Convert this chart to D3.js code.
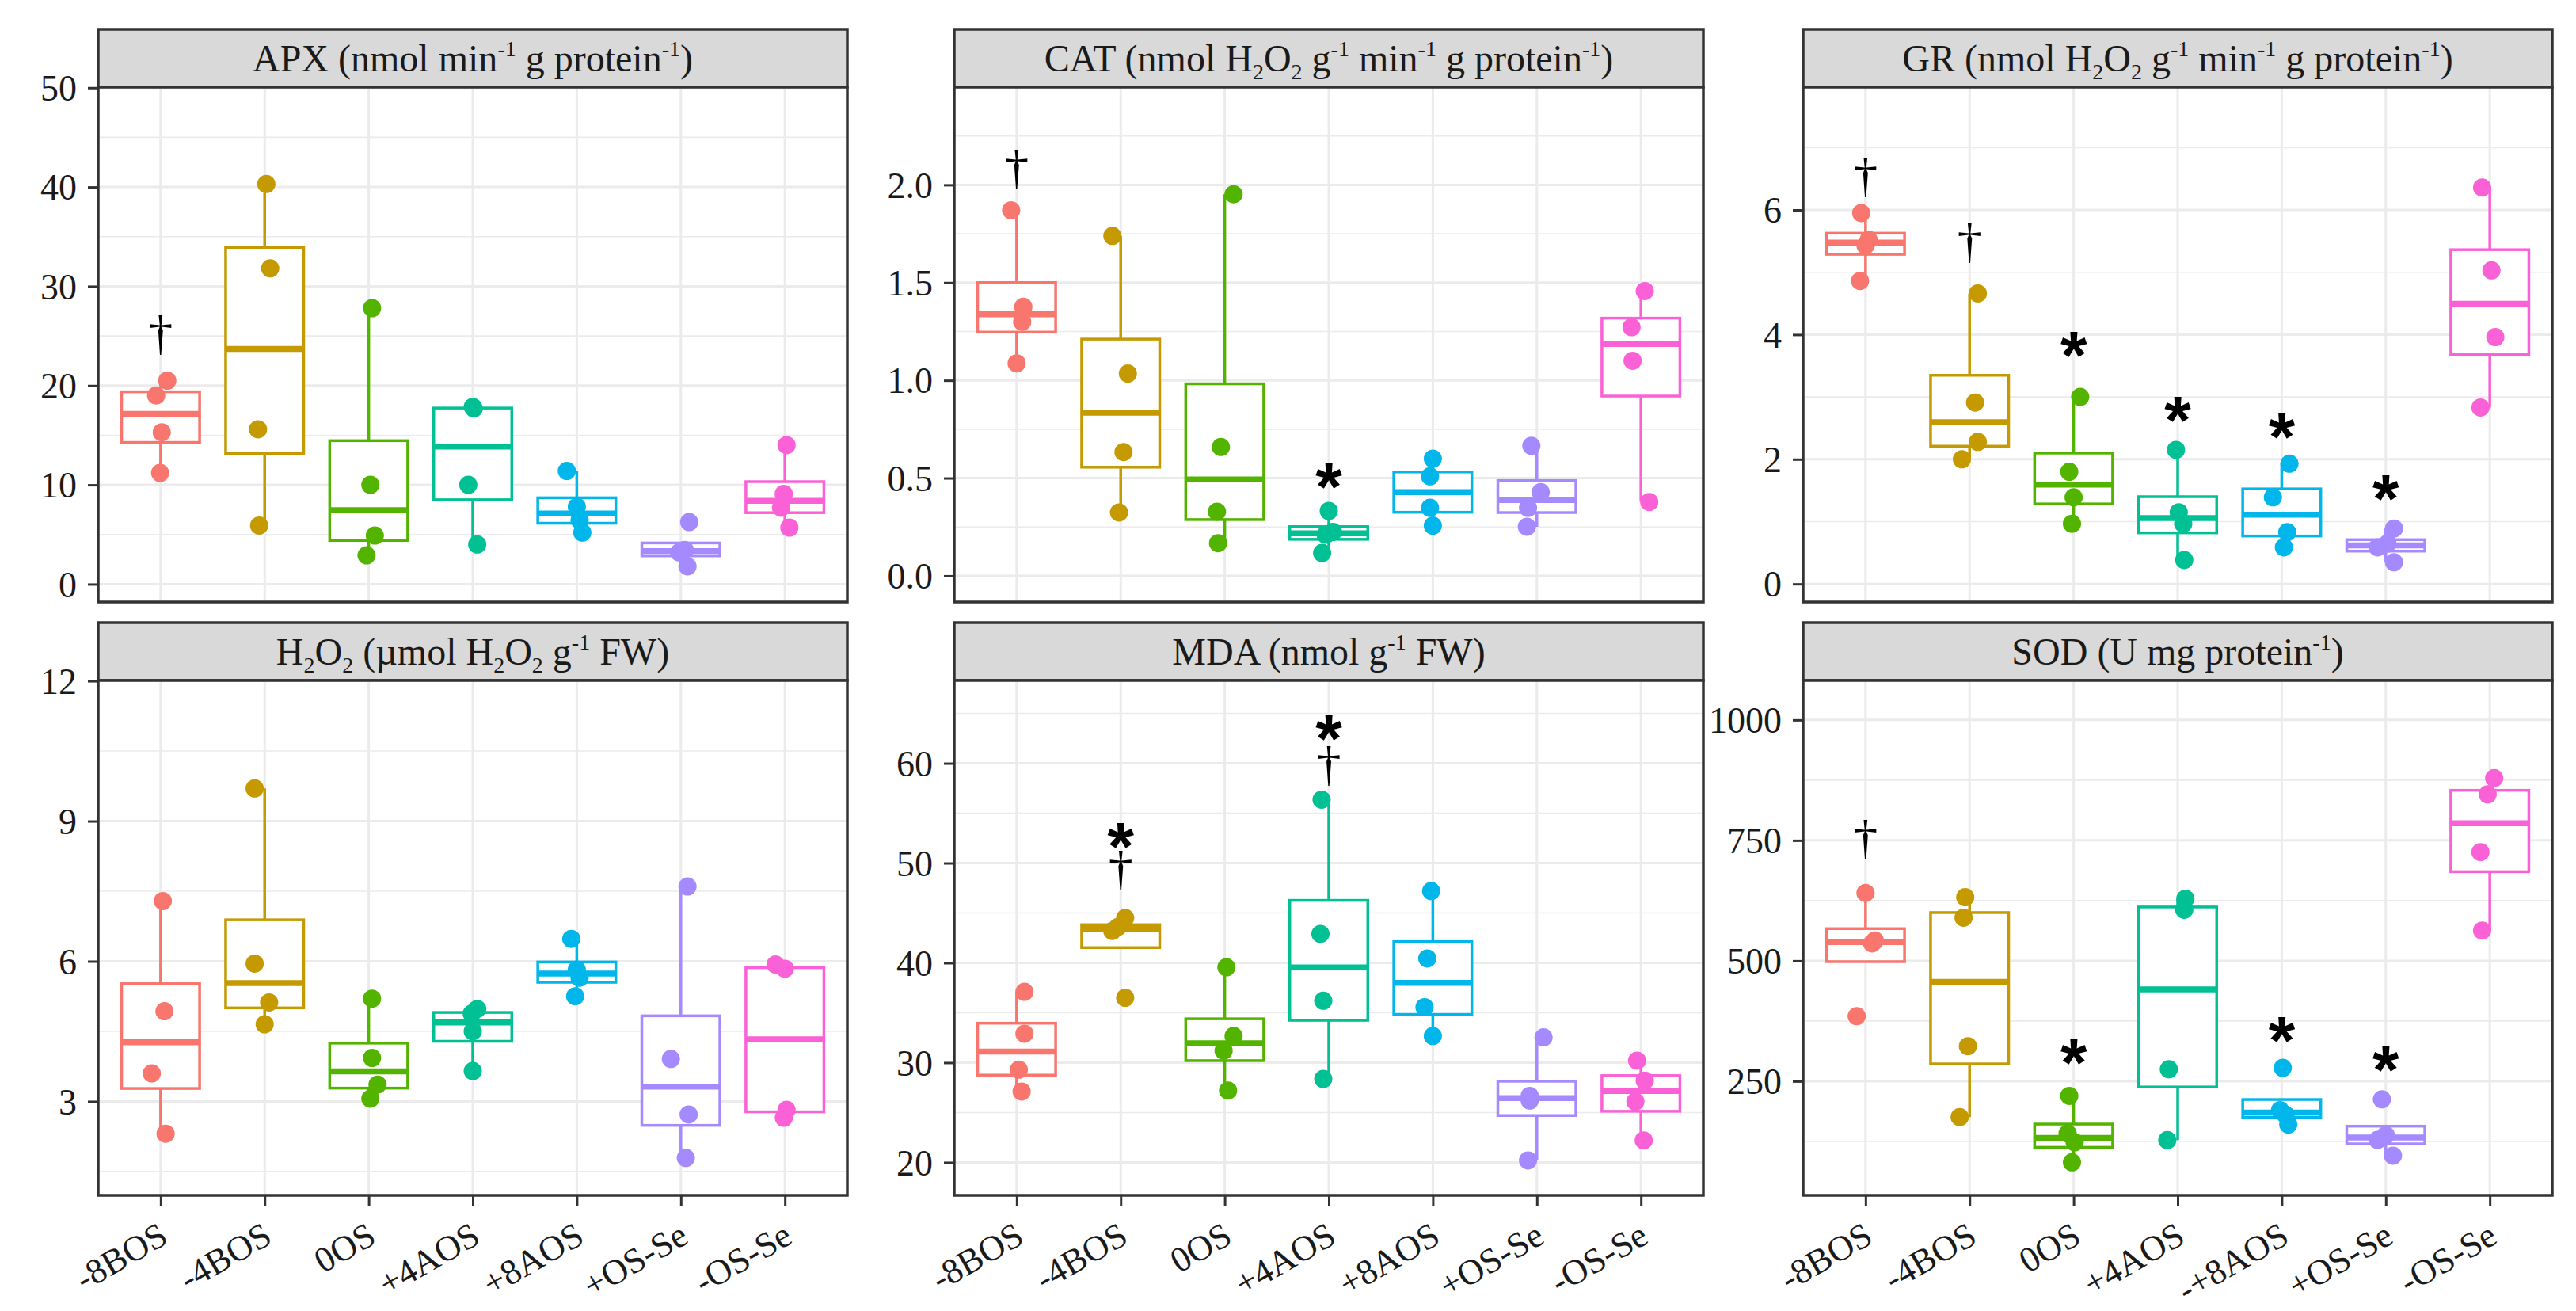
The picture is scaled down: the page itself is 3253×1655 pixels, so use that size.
<!DOCTYPE html>
<html>
<head>
<meta charset="utf-8">
<script src="https://cdn.jsdelivr.net/npm/d3@7"></script>
<style>
  body { margin: 0; background: #fff; }
  text { font-family: "Liberation Serif", "Times New Roman", serif; fill: #1a1a1a; }
</style>
</head>
<body>
<svg id="chart"></svg>
<script>
// categories
var treatments = ['-8BOS', '-4BOS', '0OS', '+4AOS', '+8AOS', '+OS-Se', '-OS-Se'];
var treatmentsSOD = ['-8BOS', '-4BOS', '0OS', '+4AOS', '-+8AOS', '+OS-Se', '-OS-Se'];

// four replicates per treatment
var apxValues = [[20.5, 19.0, 15.3, 11.2], [40.3, 31.8, 15.6, 5.9], [27.8, 10.0, 4.9, 2.9], [17.85, 17.7, 10.0, 4.0],
	[11.4, 7.8, 6.45, 5.2], [6.25, 3.45, 3.2, 1.8], [14.0, 9.1, 7.7, 5.7]];
var apxJitter = [[.064, -.043, .011, -.005], [.016, .053, -.064, -.053], [.032, .016, .059, -.021], [0, .01, -.043, .043],
	[-.096, 0, .027, .053], [.08, .037, -.016, .064], [.016, -.011, -.037, .043]];

var catValues = [[1.87, 1.377, 1.30, 1.087], [1.739, 1.035, 0.633, 0.324], [1.952, 0.659, 0.328, 0.167], [0.332, 0.225, 0.21, 0.117],
	[0.599, 0.509, 0.348, 0.257], [0.665, 0.428, 0.348, 0.251], [1.457, 1.272, 1.10, 0.378]];
var catJitter = [[-.053, .064, .053, 0], [-.08, .069, .027, -.016], [.085, -.037, -.075, -.064], [0, .04, -.03, -.064],
	[0, -.027, -.027, 0], [-.053, .037, -.085, -.096], [.037, -.09, -.08, .08]];

var grValues = [[5.95, 5.52, 5.43, 4.86], [4.66, 2.91, 2.28, 2.0], [3.0, 1.80, 1.39, 0.965], [2.15, 1.15, 0.965, 0.385],
	[1.93, 1.39, 0.83, 0.587], [0.89, 0.65, 0.587, 0.347], [6.36, 5.03, 3.96, 2.83]];
var grJitter = [[-.042, .03, 0, -.053], [.079, .053, .079, -.074], [.063, -.042, 0, -.016], [-.016, .01, .053, .063],
	[.074, -.085, .053, .021], [.079, .016, -.079, .079], [-.074, .016, .053, -.09]];

var h2o2Values = [[7.29, 4.93, 3.6, 2.31], [9.7, 5.95, 5.12, 4.65], [5.2, 3.93, 3.36, 3.06], [4.98, 4.88, 4.5, 3.65],
	[6.48, 5.82, 5.65, 5.25], [7.6, 3.91, 2.72, 1.79], [5.93, 5.84, 2.82, 2.65]];
var h2o2Jitter = [[.021, .037, -.085, .048], [-.096, -.096, .043, 0], [.032, .032, .085, .016], [.043, -.01, 0, 0],
	[-.053, 0, .027, -.016], [.064, -.096, .075, .048], [-.09, 0, .016, -.01]];

var mdaValues = [[37.1, 32.9, 29.3, 27.1], [44.5, 43.6, 43.2, 36.5], [39.56, 32.67, 31.2, 27.2], [56.36, 42.9, 36.2, 28.36],
	[47.2, 40.44, 35.56, 32.67], [32.53, 26.67, 26.2, 20.2], [30.2, 28.2, 26.1, 22.2]];
var mdaJitter = [[.075, .075, .021, .048], [.043, -.027, -.08, .043], [.016, .085, -.011, .032], [-.069, -.08, -.053, -.053],
	[-.016, -.053, -.08, 0], [.064, -.069, -.069, -.085], [-.037, .037, -.053, .027]];

var sodValues = [[641, 542, 536, 385], [632, 589.6, 322.7, 175.5], [219.6, 141.4, 123, 81.6], [629, 606, 274.8, 127.6],
	[277.6, 190, 180, 160], [212.3, 138, 128, 95.4], [879.4, 845.4, 725.7, 562.9]];
var sodJitter = [[0, .09, .063, -.085], [-.042, -.058, -.016, -.095], [-.042, -.058, .01, -.016], [.074, .063, -.085, -.1],
	[.01, -.016, .037, .063], [-.037, 0, -.079, .069], [.042, -.021, -.09, -.074]];

// y limits and ticks
var apxDomain = [-1.8, 50.06], apxTicks = [0, 10, 20, 30, 40, 50], apxMinor = [5, 15, 25, 35, 45];
var catDomain = [-0.134, 2.5], catTicks = [0, 0.5, 1.0, 1.5, 2.0], catMinor = [0.25, 0.75, 1.25, 1.75, 2.25];
var grDomain = [-0.29, 7.97], grTicks = [0, 2, 4, 6], grMinor = [1, 3, 5, 7];
var h2o2Domain = [0.99, 12.01], h2o2Ticks = [3, 6, 9, 12], h2o2Minor = [1.5, 4.5, 7.5, 10.5];
var mdaDomain = [16.7, 68.3], mdaTicks = [20, 30, 40, 50, 60], mdaMinor = [25, 35, 45, 55, 65];
var sodDomain = [13, 1082], sodTicks = [250, 500, 750, 1000], sodMinor = [125, 375, 625, 875];

// significance marks: [treatment index, symbol, value]
var apxMarks = [[0, '†', 24.9]];
var catMarks = [[0, '†', 2.07], [3, '*', 0.539]];
var grMarks = [[0, '†', 6.49], [1, '†', 5.44], [2, '*', 3.93], [3, '*', 2.89], [4, '*', 2.62], [5, '*', 1.63]];
var h2o2Marks = [];
var mdaMarks = [[1, '*', 53.3], [1, '†', 49.1], [3, '*', 64.1], [3, '†', 59.6]];
var sodMarks = [[0, '†', 748.7], [2, '*', 322.7], [4, '*', 368.7], [5, '*', 307]];

// strip titles: [text, 'sup'|'sub'|undefined]
var apxTitle = [['APX (nmol min'], ['-1', 'sup'], [' g protein'], ['-1', 'sup'], [')']];
var catTitle = [['CAT (nmol H'], ['2', 'sub'], ['O'], ['2', 'sub'], [' g'], ['-1', 'sup'], [' min'], ['-1', 'sup'], [' g protein'], ['-1', 'sup'], [')']];
var grTitle = [['GR (nmol H'], ['2', 'sub'], ['O'], ['2', 'sub'], [' g'], ['-1', 'sup'], [' min'], ['-1', 'sup'], [' g protein'], ['-1', 'sup'], [')']];
var h2o2Title = [['H'], ['2', 'sub'], ['O'], ['2', 'sub'], [' (\u00b5mol H'], ['2', 'sub'], ['O'], ['2', 'sub'], [' g'], ['-1', 'sup'], [' FW)']];
var mdaTitle = [['MDA (nmol g'], ['-1', 'sup'], [' FW)']];
var sodTitle = [['SOD (U mg protein'], ['-1', 'sup'], [')']];

var colours = ['#F8766D', '#C49A00', '#53B400', '#00C094', '#00B6EB', '#A58AFF', '#FB61D7'];

var panels = [
	{title: apxTitle, values: apxValues, jitter: apxJitter, domain: apxDomain, ticks: apxTicks, minor: apxMinor, marks: apxMarks, fmt: d3.format('d'), labels: treatments},
	{title: catTitle, values: catValues, jitter: catJitter, domain: catDomain, ticks: catTicks, minor: catMinor, marks: catMarks, fmt: d3.format('.1f'), labels: treatments},
	{title: grTitle, values: grValues, jitter: grJitter, domain: grDomain, ticks: grTicks, minor: grMinor, marks: grMarks, fmt: d3.format('d'), labels: treatments},
	{title: h2o2Title, values: h2o2Values, jitter: h2o2Jitter, domain: h2o2Domain, ticks: h2o2Ticks, minor: h2o2Minor, marks: h2o2Marks, fmt: d3.format('d'), labels: treatments},
	{title: mdaTitle, values: mdaValues, jitter: mdaJitter, domain: mdaDomain, ticks: mdaTicks, minor: mdaMinor, marks: mdaMarks, fmt: d3.format('d'), labels: treatments},
	{title: sodTitle, values: sodValues, jitter: sodJitter, domain: sodDomain, ticks: sodTicks, minor: sodMinor, marks: sodMarks, fmt: d3.format('d'), labels: treatmentsSOD}
];

//layout
var width = 3253, height = 1655;
var colX = [124, 1205, 2277], rowY = [37, 786];
var panelW = 946, stripH = 73, panelH = 650;

var svg = d3.select('#chart').attr('width', width).attr('height', height);

// R style boxplot stats (type 7 quantiles, whiskers to 1.5 IQR)
var boxStats = function(vals){
	var s = vals.slice().sort(d3.ascending);
	var q1 = d3.quantile(s, 0.25), med = d3.quantile(s, 0.5), q3 = d3.quantile(s, 0.75);
	var iqr = q3 - q1;
	var inside = s.filter(function(v){ return v >= q1 - 1.5 * iqr && v <= q3 + 1.5 * iqr; });
	return {q1: q1, med: med, q3: q3, lo: d3.min(inside), hi: d3.max(inside)};
};

var drawTitle = function(sel, parts){
	var t = sel.append('text')
		.attr('x', panelW / 2).attr('y', stripH / 2 + 16)
		.attr('text-anchor', 'middle')
		.style('font-size', '48px');
	var shift = 0;
	parts.forEach(function(p){
		var want = p[1] == 'sup' ? -19 : p[1] == 'sub' ? 10 : 0;
		t.append('tspan')
			.attr('dy', want - shift)
			.style('font-size', p[1] ? '28px' : '48px')
			.text(p[0]);
		shift = want;
	});
};

panels.forEach(function(p, i){
	var c = i % 3, r = Math.floor(i / 3);
	var g = svg.append('g').attr('transform', 'translate(' + colX[c] + ',' + rowY[r] + ')');

	// strip
	g.append('rect').attr('x', 0).attr('y', 0).attr('width', panelW).attr('height', stripH)
		.attr('fill', '#D9D9D9').attr('stroke', '#333333').attr('stroke-width', 3.5);
	drawTitle(g, p.title);

	var pg = g.append('g').attr('transform', 'translate(0,' + stripH + ')');
	var x = d3.scalePoint().domain(d3.range(7)).range([0, panelW]).padding(0.6);
	var y = d3.scaleLinear().domain(p.domain).range([panelH, 0]);
	var half = x.step() * 0.75 / 2;

	pg.append('rect').attr('width', panelW).attr('height', panelH).attr('fill', '#fff');

	// grid
	pg.selectAll('line.minor').data(p.minor).enter().append('line')
		.attr('x1', 0).attr('x2', panelW)
		.attr('y1', function(d){ return y(d); }).attr('y2', function(d){ return y(d); })
		.attr('stroke', '#EBEBEB').attr('stroke-width', 1.6);
	pg.selectAll('line.major').data(p.ticks).enter().append('line')
		.attr('x1', 0).attr('x2', panelW)
		.attr('y1', function(d){ return y(d); }).attr('y2', function(d){ return y(d); })
		.attr('stroke', '#EBEBEB').attr('stroke-width', 3);
	pg.selectAll('line.vgrid').data(d3.range(7)).enter().append('line')
		.attr('y1', 0).attr('y2', panelH)
		.attr('x1', function(d){ return x(d); }).attr('x2', function(d){ return x(d); })
		.attr('stroke', '#EBEBEB').attr('stroke-width', 3);

	// boxes
	var boxes = pg.selectAll('g.box').data(p.values).enter().append('g').classed('box', true);
	boxes.each(function(vals, k){
		var b = d3.select(this), s = boxStats(vals), cx = x(k), col = colours[k];
		b.append('line').attr('x1', cx).attr('x2', cx).attr('y1', y(s.q3)).attr('y2', y(s.hi))
			.attr('stroke', col).attr('stroke-width', 3.5);
		b.append('line').attr('x1', cx).attr('x2', cx).attr('y1', y(s.q1)).attr('y2', y(s.lo))
			.attr('stroke', col).attr('stroke-width', 3.5);
		b.append('rect').attr('x', cx - half).attr('width', half * 2)
			.attr('y', y(s.q3)).attr('height', y(s.q1) - y(s.q3))
			.attr('fill', '#fff').attr('stroke', col).attr('stroke-width', 3.5);
		b.append('line').attr('x1', cx - half).attr('x2', cx + half).attr('y1', y(s.med)).attr('y2', y(s.med))
			.attr('stroke', col).attr('stroke-width', 7.5);
	});

	// jittered points
	var pts = [];
	p.values.forEach(function(vals, k){
		vals.forEach(function(v, j){ pts.push({k: k, v: v, dx: p.jitter[k][j]}); });
	});
	pg.selectAll('circle.pt').data(pts).enter().append('circle').classed('pt', true)
		.attr('cx', function(d){ return x(d.k) + d.dx * x.step(); })
		.attr('cy', function(d){ return y(d.v); })
		.attr('r', 11.5)
		.attr('fill', function(d){ return colours[d.k]; });

	// significance marks, one label per treatment (stacked symbols share it)
	var markGroups = Array.from(d3.group(p.marks, function(d){ return d[0]; }));
	pg.selectAll('text.mark').data(markGroups).enter().append('text').classed('mark', true)
		.attr('text-anchor', 'middle')
		.style('fill', '#000')
		.each(function(grp){
			var t = d3.select(this);
			grp[1].forEach(function(d){
				var star = d[1] == '*';
				t.append('tspan')
					.attr('x', x(d[0]))
					.attr('y', y(d[2]) + (star ? 50 : 16))
					.style('font-family', star ? '"Liberation Sans", Arial, sans-serif' : null)
					.style('font-weight', star ? 'bold' : null)
					.style('font-size', star ? '86px' : '62px')
					.style('fill', '#000')
					.text(d[1]);
			});
		});

	// border
	pg.append('rect').attr('width', panelW).attr('height', panelH)
		.attr('fill', 'none').attr('stroke', '#333333').attr('stroke-width', 3.5);

	// y axis
	var ya = pg.append('g').call(d3.axisLeft(y).tickValues(p.ticks).tickFormat(p.fmt).tickSize(13).tickPadding(14));
	ya.select('.domain').remove();
	ya.selectAll('line').attr('stroke', '#333333').attr('stroke-width', 3);
	ya.selectAll('text').style('font-size', '46px').attr('dy', '0.34em').style('fill', '#1a1a1a');

	// x axis on bottom row only
	if (r == 1){
		var xa = pg.append('g').attr('transform', 'translate(0,' + panelH + ')')
			.call(d3.axisBottom(x).tickFormat(function(k){ return p.labels[k]; }).tickSize(14).tickPadding(0));
		xa.select('.domain').remove();
		xa.selectAll('line').attr('stroke', '#333333').attr('stroke-width', 3);
		xa.selectAll('text')
			.attr('x', 0).attr('y', 0).attr('dy', '0.72em')
			.attr('text-anchor', 'end')
			.attr('transform', 'translate(-5,31) rotate(-30)')
			.style('font-size', '45px').style('fill', '#1a1a1a');
	}
});
</script>
</body>
</html>
